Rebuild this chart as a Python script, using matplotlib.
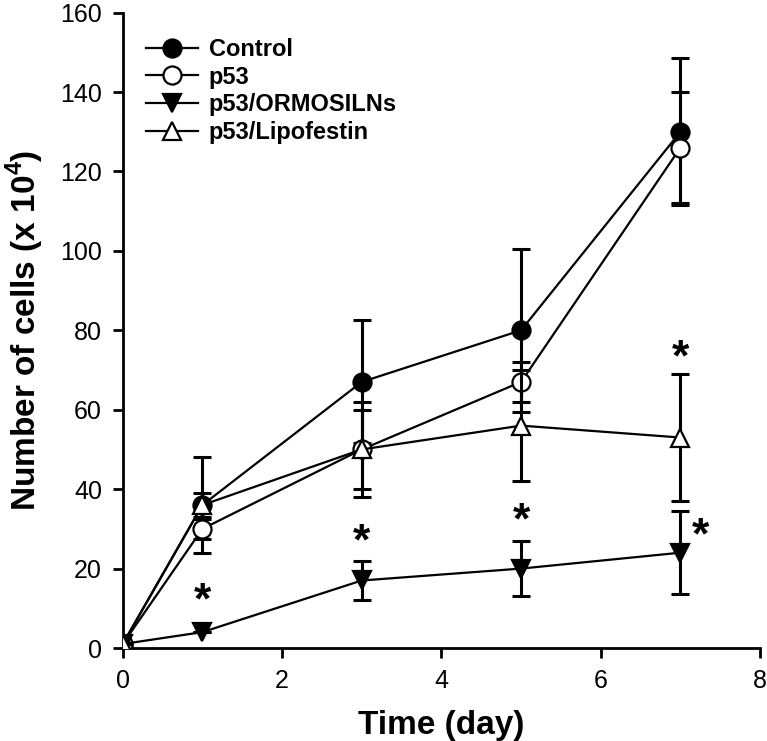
import matplotlib
matplotlib.use('Agg')
import matplotlib.pyplot as plt

plt.rcParams['font.family'] = ['Liberation Sans', 'DejaVu Sans']
plt.rcParams['mathtext.fontset'] = 'custom'
plt.rcParams['mathtext.rm'] = 'Liberation Sans:bold'
plt.rcParams['mathtext.bf'] = 'Liberation Sans:bold'

# data
days = [0, 1, 3, 5, 7]
control = [1, 36, 67, 80, 130]
control_err = [0, 12, 15.5, 20.5, 18.5]
p53 = [1, 30, 50, 67, 126]
p53_err = [0, 2.5, 10, 5, 14]
ormosil = [1, 4, 17, 20, 24]
ormosil_err = [0, 0, 5, 7, 10.5]
lipo = [1, 36, 50, 56, 53]
lipo_err = [0, 3, 12, 14, 16]

# significance stars (x, y)
star_x = [1, 3, 5, 7, 7.25]
star_y = [11.7, 26.4, 31.8, 72.7, 28]

fig = plt.figure(figsize=(7.67, 7.41), dpi=100)
ax = fig.add_axes([0.160, 0.1255, 0.831, 0.8575])

series = [
    (control, control_err, 'o', 'black', 'Control'),
    (p53, p53_err, 'o', 'white', 'p53'),
    (ormosil, ormosil_err, 'v', 'black', 'p53/ORMOSILNs'),
    (lipo, lipo_err, '^', 'white', 'p53/Lipofestin'),
]
for i, (vals, errs, m, fc, lab) in enumerate(series):
    ax.errorbar(days, vals, yerr=errs, fmt='none', ecolor='black',
                elinewidth=2.2, capsize=6.5, capthick=2.2, zorder=2 + i)
    ax.plot(days, vals, '-', color='black', lw=1.6, marker=m, ms=13,
            mfc=fc, mec='black', mew=1.6, label=lab, zorder=2.5 + i)

for sx, sy in zip(star_x, star_y):
    ax.text(sx, sy, '*', fontsize=32, fontweight='bold', ha='center', va='center')

ax.set_xlim(0, 8)
ax.set_ylim(0, 160)
ax.set_xticks([0, 2, 4, 6, 8])
ax.set_yticks(range(0, 161, 20))
ax.spines['top'].set_visible(False)
ax.spines['right'].set_visible(False)
ax.spines['left'].set_linewidth(2)
ax.spines['bottom'].set_linewidth(2)
ax.tick_params(direction='out', length=7, width=2, labelsize=18, pad=8)

ax.set_xlabel('Time (day)', fontsize=24, fontweight='bold', labelpad=12)
ax.set_ylabel(r'Number of cells (x 10$^{4}$)', fontsize=24, fontweight='bold', labelpad=10)

ax.legend(loc='upper left', bbox_to_anchor=(0.022, 0.975), frameon=False,
          prop={'weight': 'bold', 'size': 17}, handlelength=2.2,
          handletextpad=0.45, labelspacing=0.2, borderaxespad=0)

fig.savefig('out.png', dpi=100)
